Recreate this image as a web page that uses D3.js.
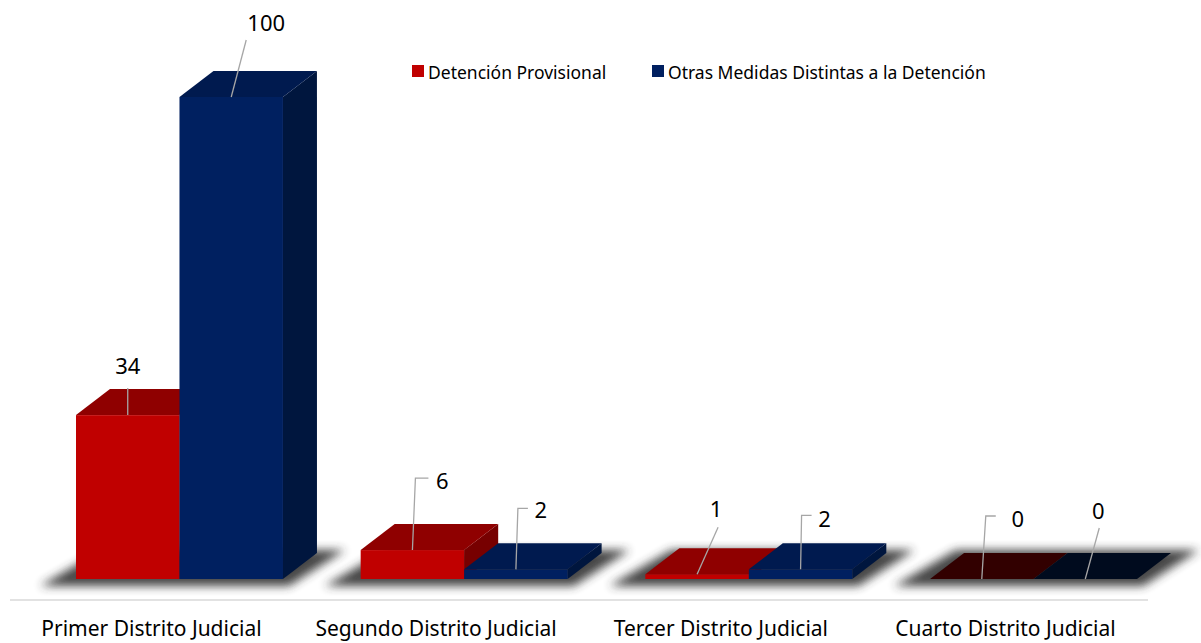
<!DOCTYPE html>
<html>
<head>
<meta charset="utf-8">
<script src="https://cdn.jsdelivr.net/npm/d3@7"></script>
<style>
  body { margin: 0; background: #fff; }
  svg { display: block; font-family: "Noto Sans", "Open Sans", sans-serif; }
</style>
</head>
<body>
<svg id="chart" width="1201" height="643"></svg>
<script>
// data
const districts = ['Primer Distrito Judicial', 'Segundo Distrito Judicial', 'Tercer Distrito Judicial', 'Cuarto Distrito Judicial'];
const seriesNames = ['Detención Provisional', 'Otras Medidas Distintas a la Detención'];
const detencion = [34, 6, 1, 0];
const otras = [100, 2, 2, 0];

// label placement (line end, optional elbow, text centre) relative to the bar's top-front centre
const labelPos = [
  [[0, -27, null, 0, -50], [15, -57, null, 35, -75]],
  [[3, -72, 16, 30, -70], [2, -61, 12, 25, -60]],
  [[21, -47, null, 19, -66], [1, -54, 11, 24, -51]],
  [[4, -63, 14, 36, -61], [14, -51, null, 13, -69]]
];

const colors = [
  { front: '#c00000', top: '#8f0000', side: '#770000', flat: '#320000' },
  { front: '#002060', top: '#001a4f', side: '#00163e', flat: '#000b1e' }
];
const depthX = 34, depthY = -26;

var svg = d3.select('#chart');

var x = d3.scaleBand()
    .domain(districts)
    .range([76, 1137])
    .paddingInner(0.273)
    .paddingOuter(0);

var xs = d3.scaleBand()
    .domain([0, 1])
    .range([0, x.bandwidth()]);

var y = d3.scaleLinear()
    .domain([0, 100])
    .range([579, 97]);

// shadow blur
var defs = svg.append('defs');
defs.append('filter')
    .attr('id', 'blur')
    .attr('x', '-20%').attr('y', '-50%')
    .attr('width', '140%').attr('height', '200%')
  .append('feGaussianBlur')
    .attr('stdDeviation', 5);

// floor shadows under each group
svg.selectAll('.shadow')
    .data(districts)
    .enter()
        .append('polygon')
            .attr('class', 'shadow')
            .attr('points', function(d){
                var x0 = x(d), x1 = x(d) + x.bandwidth(), b = y(0);
                return [[x0 - 36, b + 7], [x1 + 6, b + 7], [x1 + depthX + 28, b + depthY - 3], [x0 + depthX - 8, b + depthY - 3]].join(' ');
            })
            .attr('fill', '#333')
            .attr('opacity', 0.9)
            .attr('filter', 'url(#blur)');

// floor line
svg.append('line')
    .attr('x1', 10).attr('x2', 1148)
    .attr('y1', 600).attr('y2', 600)
    .attr('stroke', '#d9d9d9')
    .attr('stroke-width', 1.5);

// bars
var bars = [];
districts.forEach(function(d, i){
    [detencion[i], otras[i]].forEach(function(v, s){
        bars.push({ cat: d, gi: i, s: s, v: v });
    });
});

var g = svg.selectAll('.bar')
    .data(bars)
    .enter()
        .append('g')
            .attr('class', 'bar');

g.each(function(b){
    var sel = d3.select(this);
    var x0 = x(b.cat) + xs(b.s), x1 = x0 + xs.bandwidth();
    var yt = y(b.v), yb = y(0);
    var c = colors[b.s];
    if (b.v > 0) {
        sel.append('polygon')
            .attr('points', [[x1, yb], [x1 + depthX, yb + depthY], [x1 + depthX, yt + depthY], [x1, yt]].join(' '))
            .attr('fill', c.side);
        sel.append('rect')
            .attr('x', x0).attr('y', yt)
            .attr('width', x1 - x0).attr('height', yb - yt)
            .attr('fill', c.front);
    }
    sel.append('polygon')
        .attr('points', [[x0, yt], [x1, yt], [x1 + depthX, yt + depthY], [x0 + depthX, yt + depthY]].join(' '))
        .attr('fill', b.v > 0 ? c.top : c.flat);
});

// data labels with leader lines
g.each(function(b){
    var sel = d3.select(this);
    var ax = x(b.cat) + xs(b.s) + xs.bandwidth() / 2;
    var ay = y(b.v);
    var p = labelPos[b.gi][b.s];
    var pts = [[ax, ay], [ax + p[0], ay + p[1]]];
    if (p[2] !== null) pts.push([ax + p[2], ay + p[1]]);
    sel.append('path')
        .attr('d', d3.line()(pts))
        .attr('fill', 'none')
        .attr('stroke', '#a6a6a6')
        .attr('stroke-width', 1.3);
    sel.append('text')
        .text(b.v)
        .attr('x', ax + p[3])
        .attr('y', ay + p[4])
        .attr('text-anchor', 'middle')
        .attr('dominant-baseline', 'central')
        .attr('font-size', 22)
        .attr('fill', '#000');
});

// category labels
svg.selectAll('.cat')
    .data(districts)
    .enter()
        .append('text')
            .attr('class', 'cat')
            .text(d => d)
            .attr('x', d => x(d) + x.bandwidth() / 2 - 28)
            .attr('y', 628)
            .attr('text-anchor', 'middle')
            .attr('dominant-baseline', 'central')
            .attr('font-size', 21)
            .attr('fill', '#000');

// legend
var legendX = [412, 652];
var lg = svg.selectAll('.legend')
    .data(seriesNames)
    .enter()
        .append('g')
            .attr('class', 'legend')
            .attr('transform', (d, i) => 'translate(' + legendX[i] + ',65)');
lg.append('rect')
    .attr('width', 12).attr('height', 12)
    .attr('fill', (d, i) => colors[i].front);
lg.append('text')
    .text(d => d)
    .attr('x', 16)
    .attr('y', 6.5)
    .attr('dominant-baseline', 'central')
    .attr('font-size', 17.5)
    .attr('fill', '#000');
</script>
</body>
</html>
